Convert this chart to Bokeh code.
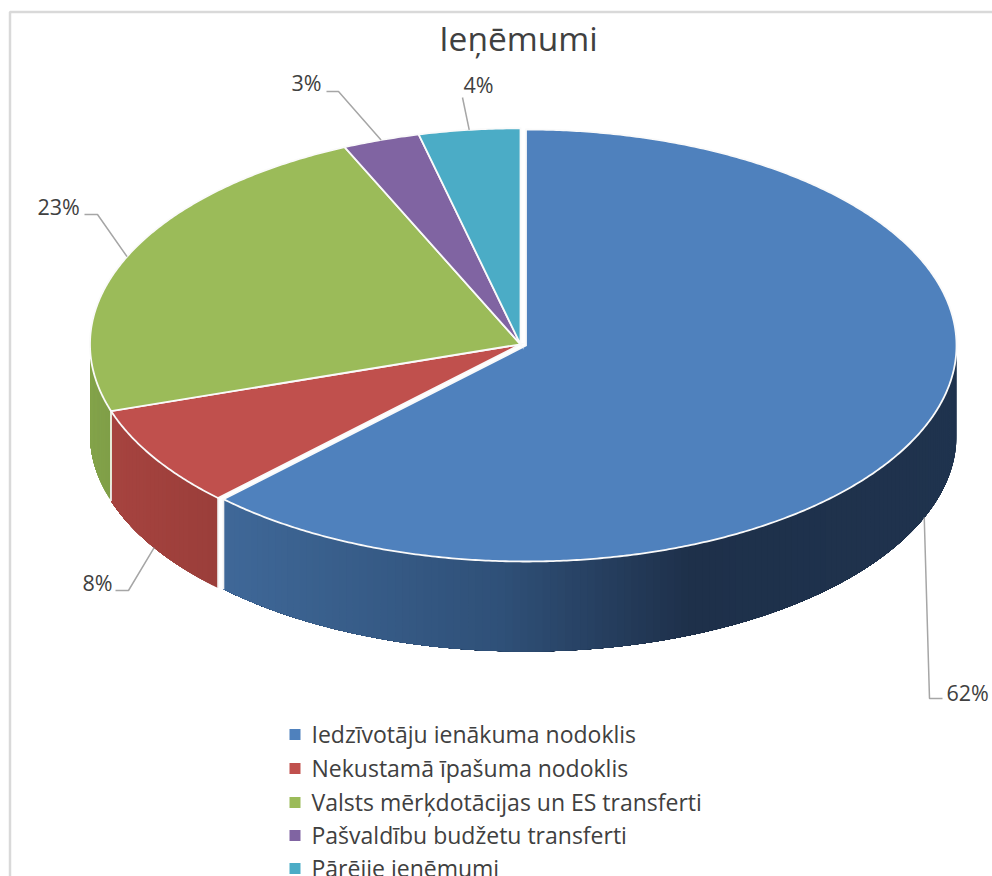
import numpy as np
from bokeh.plotting import figure
from bokeh.models import Range1d
from bokeh.core.properties import value
from bokeh.embed import file_html
from bokeh.resources import INLINE

title = "Ieņēmumi"
categories = ["Iedzīvotāju ienākuma nodoklis", "Nekustamā īpašuma nodoklis",
              "Valsts mērķdotācijas un ES transferti", "Pašvaldību budžetu transferti",
              "Pārējie ieņēmumi"]
shares = [62.4, 7.6, 23.3, 2.9, 3.8]
labels = ["62%", "8%", "23%", "3%", "4%"]
colors = ["#4F81BD", "#C0504D", "#9BBB59", "#8064A2", "#4BACC6"]

FONT = value("Open Sans")
INK = "#404040"
GREY = "#A6A6A6"
W, H = 992, 876
CX, CY, RX, RY, DEPTH = 520.0, 343.8, 430.5, 216.0, 90.0
EXPLODE = [(5.5, 1.2), (0, 0), (0, 0), (0, 0), (0, 0)]

p = figure(width=W, height=H, x_range=Range1d(0, W), y_range=Range1d(H, 0),
           output_backend="svg", toolbar_location=None, min_border=0,
           outline_line_color=None, background_fill_color="white")
p.axis.visible = False
p.grid.visible = False


def rim(theta, ox=0.0, oy=0.0):
    t = np.radians(theta)
    return CX + ox + RX * np.sin(t), CY + oy - RY * np.cos(t)


def mix(c1, c2, f):
    a = np.array([int(c1[i:i + 2], 16) for i in (1, 3, 5)], float)
    b = np.array([int(c2[i:i + 2], 16) for i in (1, 3, 5)], float)
    r = a + (b - a) * f
    return "#%02x%02x%02x" % tuple(int(round(v)) for v in r)


# side shading runs left to right across the drum
SHADE = {0: [(225, "#3F6898"), (500, "#2F5078"), (690, "#1E304A"), (960, "#1F334E")],
         1: [(112, "#A6433F"), (220, "#9A3E3A")],
         2: [(90, "#83A34A"), (112, "#7F9E47")]}


def shade(i, x):
    st = SHADE[i]
    xs = [s[0] for s in st]
    k = min(max(np.searchsorted(xs, x) - 1, 0), len(st) - 2)
    f = min(max((x - xs[k]) / (xs[k + 1] - xs[k]), 0), 1)
    return mix(st[k][1], st[k + 1][1], f)


# frame
p.line([9.5, 9.5, W], [H, 11.5, 11.5], line_color="#D9D9D9", line_width=2.5)

edges = np.concatenate([[0], np.cumsum(shares)]) / sum(shares) * 360.0

# drum side: only the part of each slice that faces the viewer
# each strip runs on to the slice's far end and the next strip covers it, so no seam shows
for i in [2, 1, 0]:
    a0, a1 = max(edges[i], 90.0), min(edges[i + 1], 270.0)
    if a1 <= a0:
        continue
    ox, oy = EXPLODE[i]
    ts = np.linspace(a0, a1, int(a1 - a0) + 2)
    for k in range(len(ts) - 1):
        t0, t1 = ts[k], ts[k + 1]
        tt = np.linspace(t0, a1, max(int((a1 - t0) * 1.5), 2))
        xs, ys = rim(tt, ox, oy)
        c = shade(i, rim((t0 + t1) / 2, ox, oy)[0])
        p.patch(np.concatenate([xs, xs[::-1]]), np.concatenate([ys, ys[::-1] + DEPTH]),
                fill_color=c, line_color=None)
    for t in (a0, a1):
        if 90.0 < t < 270.0:
            x, y = rim(t, ox, oy)
            p.line([x, x], [y, y + DEPTH], line_color="#F2F2F2", line_width=1.6)
xg, yg = rim(edges[2])
p.line([xg, xg], [yg, yg + DEPTH - 16], line_color="#E4EBD5", line_width=1.5)

# top faces
for i in range(5):
    ox, oy = EXPLODE[i]
    ts = np.linspace(edges[i], edges[i + 1], max(int(shares[i] * 8), 12))
    xs, ys = rim(ts, ox, oy)
    xs = np.concatenate([[CX + ox], xs])
    ys = np.concatenate([[CY + oy], ys])
    p.patch(xs, ys, fill_color=colors[i], line_color="#FAFAFA", line_width=1.8,
            line_join="miter")

# leader lines and data labels, anchored on each slice's middle angle
elbow_x = [929, 128, 97, 338, None]
elbow_y = [698, 590, 214, 91, None]
tail_x = [942, 115, 84, 326, 462]
tail_y = [698, 590, 214, 91, 97]
label_x = [946, 82, 37, 291, 463]
label_y = [692, 582, 206, 82, 84]
for i in range(5):
    mid = (edges[i] + edges[i + 1]) / 2
    x, y = rim(mid, *EXPLODE[i])
    if 90 < mid < 270:
        y += DEPTH
    xs, ys = [x], [y]
    if elbow_x[i] is not None:
        xs.append(elbow_x[i]); ys.append(elbow_y[i])
    xs.append(tail_x[i]); ys.append(tail_y[i])
    p.line(xs, ys, line_color=GREY, line_width=1.5)
p.text(label_x, label_y, text=labels, text_font=FONT, text_font_size="21.5px",
       text_color=INK, text_align="left", text_baseline="middle")

# title
p.text([518], [37], text=[title], text_font=FONT, text_font_size="33.5px",
       text_color=INK, text_align="center", text_baseline="middle")

# legend
leg_y = [734, 768, 802, 835, 868]
p.scatter([294.5] * 5, leg_y, marker="square", size=11, fill_color=colors, line_color=None)
p.text([311] * 5, [y - 0.5 for y in leg_y], text=categories, text_font=FONT,
       text_font_size="23px", text_color=INK, text_align="left", text_baseline="middle")

open("out.html", "w").write(file_html(p, INLINE))
